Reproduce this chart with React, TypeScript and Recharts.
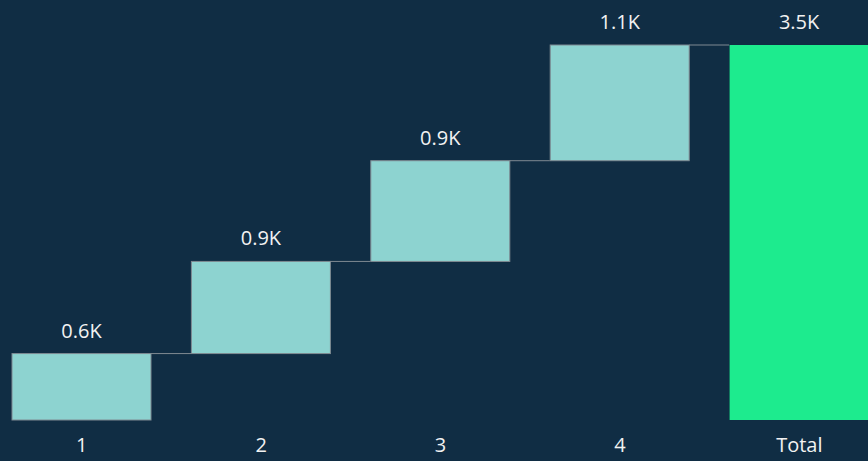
import { Bar, BarChart, XAxis, YAxis } from "recharts";

const categories = ["1", "2", "3", "4", "Total"];
const steps = [620, 860, 940, 1080];

const BG = "#102D44";
const STEP = "#8DD3D0";
const TOTAL = "#1DEB8E";
const EDGE = "#7F8A92";
const GAP = 20;

const total = steps.reduce((a, b) => a + b, 0);

let run = 0;
const data = categories.map((name, i) => {
  if (i < steps.length) {
    const row = { name, base: run, value: steps[i], isTotal: false };
    run += steps[i];
    return row;
  }
  return { name, base: 0, value: total, isTotal: true };
});

function fmtK(n: number) {
  return (Math.round(n / 100) / 10).toFixed(1) + "K";
}

function StepShape(props: any) {
  const { x, y, width, height, payload, index } = props;
  const last = index === data.length - 1;
  return (
    <g>
      <rect
        x={x}
        y={y}
        width={width}
        height={height}
        fill={payload.isTotal ? TOTAL : STEP}
        stroke={payload.isTotal ? "none" : EDGE}
        strokeWidth={1}
      />
      {!last && (
        <line x1={x + width} x2={x + width + GAP * 2} y1={y} y2={y} stroke={EDGE} strokeWidth={1} />
      )}
      <text
        x={x + width / 2}
        y={y - 16}
        textAnchor="middle"
        fill="#F2F2F2"
        fontSize={20}
        fontFamily="'Open Sans', sans-serif"
      >
        {fmtK(payload.value)}
      </text>
    </g>
  );
}

export default function App() {
  return (
    <div
      style={{
        position: "fixed",
        left: 0,
        top: 0,
        width: 868,
        height: 461,
        overflow: "hidden",
        background: BG,
      }}
    >
      <div style={{ marginLeft: -8 }}>
        <BarChart
          width={897}
          height={461}
          data={data}
          margin={{ top: 45, right: 0, left: 0, bottom: 0 }}
          barCategoryGap={GAP}
        >
          <XAxis
            dataKey="name"
            axisLine={false}
            tickLine={false}
            height={41}
            tickMargin={12}
            interval={0}
            tick={{ fill: "#F2F2F2", fontSize: 20, fontFamily: "'Open Sans', sans-serif" }}
          />
          <YAxis hide domain={[0, "dataMax"]} />
          <Bar dataKey="base" stackId="w" fill="transparent" isAnimationActive={false} />
          <Bar
            dataKey="value"
            stackId="w"
            shape={<StepShape />}
            isAnimationActive={false}
          />
        </BarChart>
      </div>
    </div>
  );
}
